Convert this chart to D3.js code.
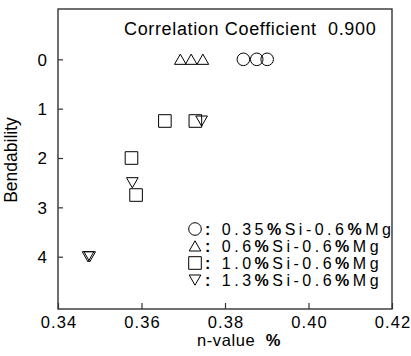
<!DOCTYPE html>
<html>
<head>
<meta charset="utf-8">
<script src="https://cdn.jsdelivr.net/npm/d3@7"></script>
<style>
  html, body { margin: 0; padding: 0; background: #fff; }
  svg { display: block; font-family: "Liberation Sans", Arial, sans-serif; }
</style>
</head>
<body>
<svg id="chart" width="411" height="356"></svg>
<script>
// n-value vs. bendability for four Al-Si-Mg alloys
const seriesNames = ["0.35", "0.6", "1.0", "1.3"];
const seriesShapes = ["circle", "triangleUp", "square", "triangleDown"];

const nValue035 = [0.3844, 0.3876, 0.3901];
const bend035   = [0, 0, 0];
const nValue06  = [0.3693, 0.3719, 0.3747];
const bend06    = [0, 0, 0];
const nValue10  = [0.3656, 0.3729, 0.3576, 0.3587];
const bend10    = [1.25, 1.25, 2, 2.75];
const nValue13  = [0.3744, 0.3578, 0.3472, 0.3476];
const bend13    = [1.25, 2.5, 4, 4];

const xTicks = [0.34, 0.36, 0.38, 0.40, 0.42];
const yTicks = [0, 1, 2, 3, 4];
const correlation = 0.900;

const series = [
  { name: seriesNames[0], shape: seriesShapes[0], x: nValue035, y: bend035 },
  { name: seriesNames[1], shape: seriesShapes[1], x: nValue06,  y: bend06 },
  { name: seriesNames[2], shape: seriesShapes[2], x: nValue10,  y: bend10 },
  { name: seriesNames[3], shape: seriesShapes[3], x: nValue13,  y: bend13 }
];

const svg = d3.select("#chart");
const plotLeft = 58, plotRight = 392, plotTop = 9, plotBottom = 309;
const ink = "#000";
const frame = "#333";

const x = d3.scaleLinear().domain([0.34, 0.42]).range([plotLeft, plotRight]);
const y = d3.scaleLinear().domain([-1.02, 5.06]).range([plotTop, plotBottom]);

// marker outline paths, centred on the point
function markerPath(shape) {
  if (shape === "circle") {
    const r = 6.3;
    return `M${-r},0A${r},${r} 0 1,0 ${r},0A${r},${r} 0 1,0 ${-r},0Z`;
  }
  if (shape === "square") {
    const s = 6.3;
    return `M${-s},${-s}H${s}V${s}H${-s}Z`;
  }
  if (shape === "triangleUp") {
    return "M0,-5.2L5.8,5L-5.8,5Z";
  }
  return "M-5.8,-5L5.8,-5L0,5.2Z";
}

// frame
svg.append("rect")
  .attr("x", plotLeft).attr("y", plotTop)
  .attr("width", plotRight - plotLeft).attr("height", plotBottom - plotTop)
  .attr("fill", "none").attr("stroke", frame).attr("stroke-width", 1.4);

// x axis: inward ticks along the bottom edge
const xAxis = svg.append("g")
  .attr("transform", `translate(0,${plotBottom})`)
  .call(d3.axisBottom(x).tickValues(xTicks).tickSize(-6).tickPadding(0)
    .tickFormat(d3.format(".2f")));
xAxis.select(".domain").remove();
xAxis.selectAll(".tick line").attr("stroke", frame).attr("stroke-width", 1.2);
xAxis.selectAll(".tick text")
  .attr("y", 18.5).attr("dy", 0).attr("dx", 0.5)
  .attr("font-size", 16.5).attr("letter-spacing", 1.1).attr("fill", ink)
  .attr("font-family", "Liberation Sans, Arial, sans-serif");

// y axis: inward ticks along the left edge
const yAxis = svg.append("g")
  .attr("transform", `translate(${plotLeft},0)`)
  .call(d3.axisLeft(y).tickValues(yTicks).tickSize(-5).tickPadding(0)
    .tickFormat(d3.format("d")));
yAxis.select(".domain").remove();
yAxis.selectAll(".tick line").attr("stroke", frame).attr("stroke-width", 1.2);
yAxis.selectAll(".tick text")
  .attr("x", -11).attr("dy", "0.35em")
  .attr("font-size", 17).attr("fill", ink)
  .attr("font-family", "Liberation Sans, Arial, sans-serif");

// points
const points = svg.append("g").attr("class", "points");
series.forEach(s => {
  points.selectAll(null)
    .data(s.x.map((v, i) => [v, s.y[i]]))
    .join("path")
    .attr("transform", d => `translate(${x(d[0])},${y(d[1])})`)
    .attr("d", markerPath(s.shape))
    .attr("fill", "none").attr("stroke", ink).attr("stroke-width", 1);
});

// correlation note
svg.append("text")
  .attr("x", 124).attr("y", 35)
  .attr("font-size", 18).attr("letter-spacing", 0.65).attr("fill", ink)
  .style("white-space", "pre")
  .text(`Correlation Coefficient  ${correlation.toFixed(3)}`);

// legend
const legend = svg.append("g").attr("class", "legend");
series.forEach((s, i) => {
  const cy = 229 + i * 17;
  legend.append("path")
    .attr("transform", `translate(195,${cy})`)
    .attr("d", markerPath(s.shape))
    .attr("fill", "none").attr("stroke", ink).attr("stroke-width", 1);
  const t = legend.append("text")
    .attr("x", 205).attr("y", cy + 6)
    .attr("font-size", 16).attr("letter-spacing", 3.5).attr("fill", ink)
    .style("white-space", "pre");
  t.append("tspan").attr("font-weight", "bold").text(": ");
  t.append("tspan").text(s.name);
  t.append("tspan").attr("font-weight", "bold").text("%");
  t.append("tspan").text("Si-0.6");
  t.append("tspan").attr("font-weight", "bold").text("%");
  t.append("tspan").text("Mg");
});

// axis titles
const xt = svg.append("text")
  .attr("x", 197).attr("y", 345.5)
  .attr("font-size", 16.5).attr("letter-spacing", 0.6).attr("fill", ink)
  .style("white-space", "pre");
xt.append("tspan").text("n-value  ");
xt.append("tspan").attr("font-weight", "bold").text("%");

svg.append("text")
  .attr("transform", `translate(17,${(plotTop + plotBottom) / 2 + 1}) rotate(-90)`)
  .attr("text-anchor", "middle")
  .attr("font-size", 17.5).attr("fill", ink)
  .text("Bendability");
</script>
</body>
</html>
